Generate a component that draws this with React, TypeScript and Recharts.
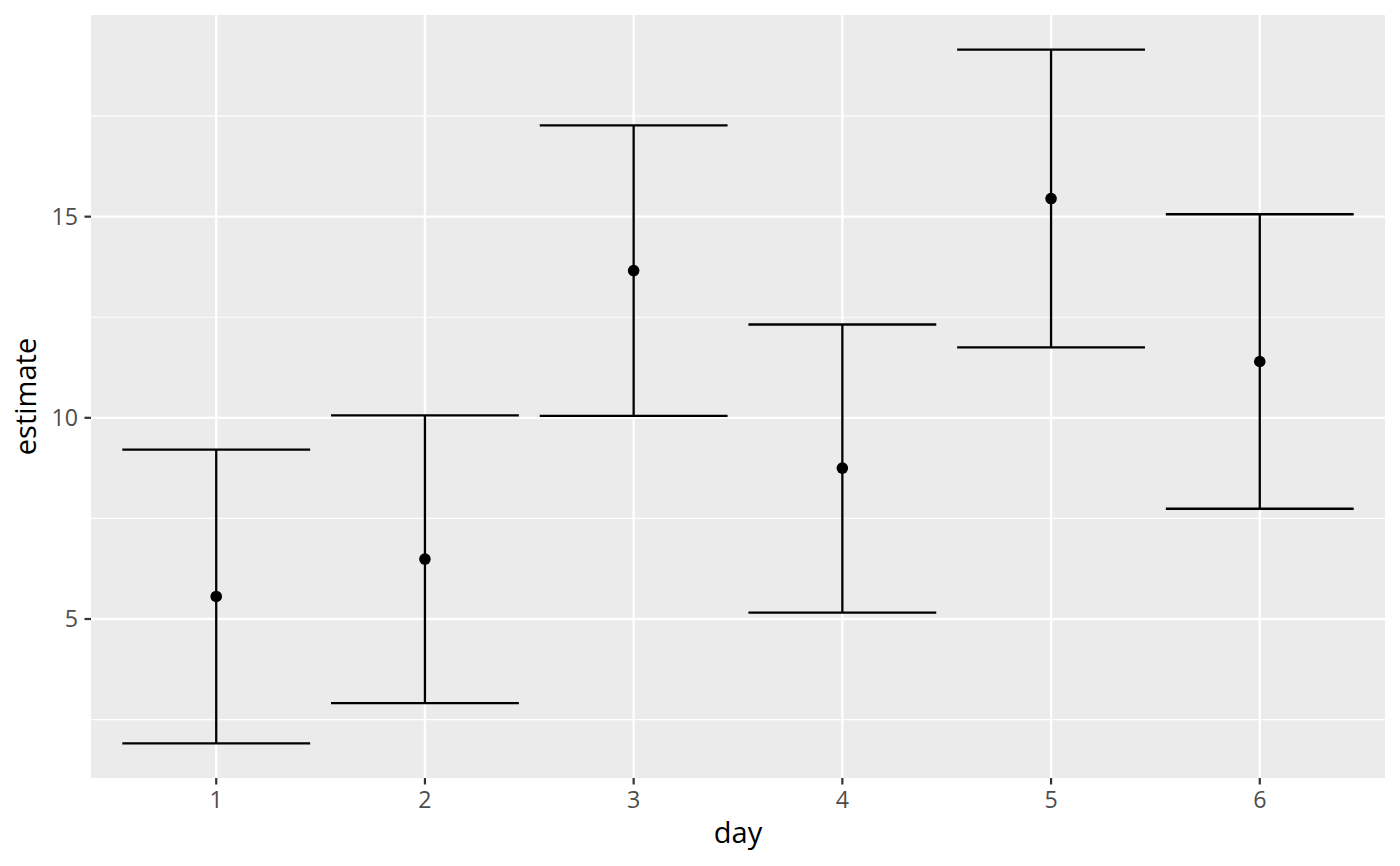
import {
  ComposedChart,
  Scatter,
  ErrorBar,
  XAxis,
  YAxis,
  CartesianGrid,
} from "recharts";

// values
const days = [1, 2, 3, 4, 5, 6];
const estimate = [5.56, 6.49, 13.66, 8.75, 15.45, 11.4];
const lower = [1.91, 2.91, 10.05, 5.16, 11.75, 7.74];
const upper = [9.21, 10.06, 17.27, 12.32, 19.15, 15.06];

const yMajor = [5, 10, 15];
const yMinor = [2.5, 7.5, 12.5, 17.5];

const rows = days.map((d, i) => ({
  day: d,
  estimate: estimate[i],
  err: [estimate[i] - lower[i], upper[i] - estimate[i]],
}));

const W = 1400;
const H = 866;
const margin = { top: 15, right: 15, left: 0, bottom: 0 };
const yAxisWidth = 91;
const xAxisHeight = 88;

// ggplot-like expansion
const yLo = Math.min(...lower);
const yHi = Math.max(...upper);
const yPad = (yHi - yLo) * 0.05;
const yDomain = [yLo - yPad, yHi + yPad];
const xDomain = [days[0] - 0.6, days[days.length - 1] + 0.6];

// errorbar width 0.9 (in day units), Recharts wants half width in px
const plotW = W - margin.left - margin.right - yAxisWidth;
const capHalf = (0.45 * plotW) / (xDomain[1] - xDomain[0]);

const tickStyle = { fill: "#4D4D4D", fontSize: 23.2 };

export default function App() {
  return (
    <div style={{ position: "absolute", left: 0, top: 0, fontFamily: "'Open Sans', sans-serif" }}>
      <style>{`.recharts-errorBar line { stroke-width: 2.3px; stroke: #000; }`}</style>
      <ComposedChart width={W} height={H} data={rows} margin={margin}>
        <CartesianGrid
          fill="#EBEBEB"
          stroke="#FFFFFF"
          strokeWidth={1.2}
          vertical={false}
          horizontalValues={yMinor}
        />
        <CartesianGrid
          stroke="#FFFFFF"
          strokeWidth={2.3}
          horizontalValues={yMajor}
          verticalValues={days}
        />
        <XAxis
          type="number"
          dataKey="day"
          domain={xDomain}
          ticks={days}
          allowDataOverflow
          height={xAxisHeight}
          axisLine={false}
          tickLine={{ stroke: "#333333", strokeWidth: 2.2 }}
          tickSize={6.5}
          tickMargin={7}
          tick={tickStyle}
          label={{
            value: "day",
            position: "insideBottom",
            offset: 23,
            style: { fill: "#000", fontSize: 29 },
          }}
        />
        <YAxis
          type="number"
          dataKey="estimate"
          domain={yDomain}
          ticks={yMajor}
          allowDataOverflow
          width={yAxisWidth}
          axisLine={false}
          tickLine={{ stroke: "#333333", strokeWidth: 2.2 }}
          tickSize={6.5}
          tickMargin={6.5}
          tick={tickStyle}
          label={{
            value: "estimate",
            angle: -90,
            position: "insideLeft",
            offset: 26,
            style: { fill: "#000", fontSize: 29, textAnchor: "middle" },
          }}
        />
        <Scatter
          dataKey="estimate"
          isAnimationActive={false}
          shape={(p: any) => <circle cx={p.cx} cy={p.cy} r={5.8} fill="#000" />}
        >
          <ErrorBar
            dataKey="err"
            direction="y"
            width={capHalf}
            stroke="#000"
            strokeWidth={2.3}
            isAnimationActive={false}
          />
        </Scatter>
      </ComposedChart>
    </div>
  );
}
